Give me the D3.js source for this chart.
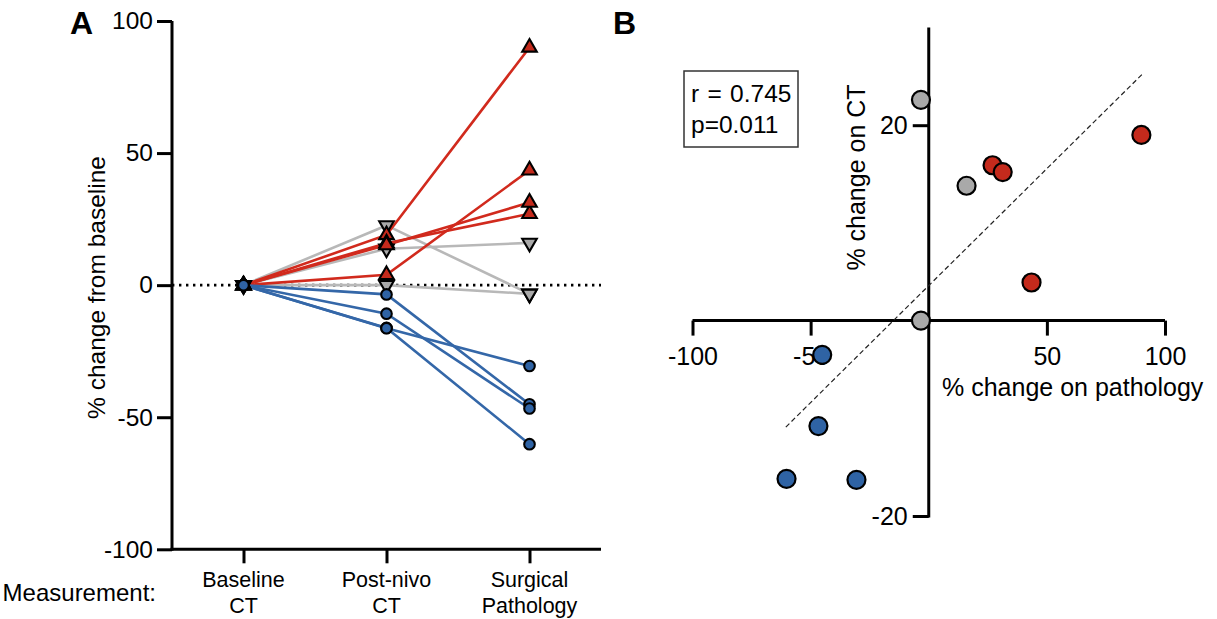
<!DOCTYPE html>
<html><head><meta charset="utf-8">
<script src="https://cdn.jsdelivr.net/npm/d3@7"></script>
<style>
body{margin:0;background:#fff}
svg text{font-family:"Liberation Sans",Arial,Helvetica,sans-serif;fill:#000}
</style>
</head><body>
<svg id="c" width="1217" height="619"></svg>
<script>
// ---------- DATA ----------
const categories = ["Baseline CT", "Post-nivo CT", "Surgical Pathology"];
const categoryLine1 = ["Baseline", "Post-nivo", "Surgical"];
const categoryLine2 = ["CT", "CT", "Pathology"];
const groups = ["red","red","red","red","gray","gray","gray","blue","blue","blue","blue"];
const baselineChange = [0, 0, 0, 0, 0, 0, 0, 0, 0, 0, 0];
const ctChange   = [19.0, 15.9, 15.2, 3.9, 22.6, 13.8, 0.0, -3.5, -10.8, -16.2, -16.3];
const pathChange = [90.0, 27.0, 31.3, 43.5, -3.3, 16.0, -3.3, -45.1, -46.7, -60.2, -30.6];
const yTicksA = [-100, -50, 0, 50, 100];
const xTicksB = [-100, -50, 50, 100];
const yTicksB = [-20, 20];
const fitPath = [-60.5, 90.3];
const fitCT = [-10.9, 25.2];
const statsLines = ["r = 0.745", "p=0.011"];

// ---------- STYLE ----------
const fillCol = {red:"#c42a1c", gray:"#a9a9a9", blue:"#2f63a4"};
const lineCol = {red:"#d12a1d", gray:"#b8b8b8", blue:"#3467a8"};
const drawOrder = ["gray","red","blue"];
const FONT = '"Liberation Sans", Arial, Helvetica, sans-serif';
const fmt = d => String(d);

const svg = d3.select("#c");
svg.append("rect").attr("width",1217).attr("height",619).attr("fill","#fff");

function styleAxis(g, fs){
  g.attr("font-family", FONT).attr("font-size", fs);
  g.selectAll(".domain").attr("stroke","#000").attr("stroke-width",3);
  g.selectAll(".tick line").attr("stroke","#000").attr("stroke-width",3);
  g.selectAll(".tick text").attr("fill","#000");
}

// ================= PANEL A =================
const xA = d3.scalePoint(categories, [172, 601]).padding(0.5);
const yA = d3.scaleLinear([-100, 100], [549.3, 21]);

const gA = svg.append("g");

// zero dotted line
gA.append("line")
  .attr("x1", xA.range()[0]).attr("x2", xA.range()[1])
  .attr("y1", yA(0)).attr("y2", yA(0))
  .attr("stroke","#000").attr("stroke-width",2.6)
  .attr("stroke-dasharray","2.4,4.6");

const patients = groups.map((g,i)=>({
  group:g,
  vals:[baselineChange[i], ctChange[i], pathChange[i]]
}));

const lineGen = d3.line().x((d,i)=>xA(categories[i])).y(d=>yA(d));
drawOrder.forEach(grp=>{
  gA.selectAll(null).data(patients.filter(p=>p.group===grp)).join("path")
    .attr("d", p=>lineGen(p.vals))
    .attr("fill","none").attr("stroke", lineCol[grp]).attr("stroke-width",2.6);
});

const triUp = d3.symbol().type(d3.symbolTriangle).size(92);
drawOrder.forEach(grp=>{
  patients.filter(p=>p.group===grp).forEach(p=>{
    p.vals.forEach((v,j)=>{
      const cx = xA(categories[j]), cy = yA(v);
      if(grp==="blue"){
        gA.append("circle").attr("cx",cx).attr("cy",cy).attr("r",5.3)
          .attr("fill",fillCol.blue).attr("stroke","#000").attr("stroke-width",2.1);
      } else {
        gA.append("path").attr("d",triUp())
          .attr("transform",`translate(${cx},${cy})` + (grp==="gray" ? " rotate(180)" : ""))
          .attr("fill",fillCol[grp]).attr("stroke","#000").attr("stroke-width",2.1)
          .attr("stroke-linejoin","miter");
      }
    });
  });
});

// axes A
const axYA = gA.append("g").attr("transform","translate(172,0)")
  .call(d3.axisLeft(yA).tickValues(yTicksA).tickFormat(fmt).tickSize(15).tickPadding(4).tickSizeOuter(0));
styleAxis(axYA, 24.5);

const axXA = gA.append("g").attr("transform",`translate(0,${yA(-100)})`)
  .call(d3.axisBottom(xA).tickSize(14).tickSizeOuter(0).tickFormat(""));
styleAxis(axXA, 21.5);
axXA.selectAll(".domain").attr("d", `M${xA.range()[0]-1.5},0H${xA.range()[1]}`);
axYA.selectAll(".domain").attr("d", `M0,${yA.range()[0]+1.5}V${yA.range()[1]}`);

// category labels
categories.forEach((c,i)=>{
  const t = gA.append("text").attr("text-anchor","middle")
    .attr("font-size",21.5).attr("x",xA(c));
  t.append("tspan").attr("x",xA(c)).attr("y",587).text(categoryLine1[i]);
  t.append("tspan").attr("x",xA(c)).attr("y",613).text(categoryLine2[i]);
});
gA.append("text").attr("x",156).attr("y",601).attr("text-anchor","end")
  .attr("font-size",24).text("Measurement:");

gA.append("text").attr("transform","translate(105,287.5) rotate(-90)")
  .attr("text-anchor","middle").attr("font-size",24.5).text("% change from baseline");

svg.append("text").attr("x",70).attr("y",33.5).attr("font-size",32)
  .attr("font-weight","bold").text("A");

// ================= PANEL B =================
const xB = d3.scaleLinear([-100, 100], [692.5, 1165]);
const yB = d3.scaleLinear([-20, 30], [516, 27.5]);
const gB = svg.append("g");

const axXB = gB.append("g").attr("transform",`translate(0,${yB(0)})`)
  .call(d3.axisBottom(xB).tickValues(xTicksB).tickFormat(fmt).tickSize(15).tickPadding(12).tickSizeOuter(0));
styleAxis(axXB, 25);
const axYB = gB.append("g").attr("transform",`translate(${xB(0)},0)`)
  .call(d3.axisLeft(yB).tickValues(yTicksB).tickFormat(fmt).tickSize(16).tickPadding(5).tickSizeOuter(0));
styleAxis(axYB, 25);
axXB.selectAll(".domain").attr("d", `M${xB.range()[0]},0H${xB.range()[1]}`);
axYB.selectAll(".domain").attr("d", `M0,${yB.range()[0]+1.5}V${yB.range()[1]}`);

// fit line
gB.append("line")
  .attr("x1",xB(fitPath[0])).attr("y1",yB(fitCT[0]))
  .attr("x2",xB(fitPath[1])).attr("y2",yB(fitCT[1]))
  .attr("stroke","#222").attr("stroke-width",1.2).attr("stroke-dasharray","5,3");

// points
const ptsB = groups.map((g,i)=>({group:g, x:pathChange[i], y:ctChange[i]}));
const orderB = ["gray","blue","red"];
orderB.forEach(grp=>{
  gB.selectAll(null).data(ptsB.filter(p=>p.group===grp)).join("circle")
    .attr("cx",d=>xB(d.x)).attr("cy",d=>yB(d.y)).attr("r",9)
    .attr("fill",fillCol[grp]).attr("stroke","#000").attr("stroke-width",2.2);
});

gB.append("text").attr("x",942).attr("y",396).attr("font-size",25)
  .text("% change on pathology");
gB.append("text").attr("transform","translate(865,177.5) rotate(-90)")
  .attr("text-anchor","middle").attr("font-size",25).text("% change on CT");

// stats box
gB.append("rect").attr("x",684).attr("y",71).attr("width",114).attr("height",76)
  .attr("fill","none").attr("stroke","#333").attr("stroke-width",1.5);
statsLines.forEach((s,i)=>{
  gB.append("text").attr("x",691).attr("y",102+i*31).attr("font-size",24.5)
    .attr("word-spacing", i===0 ? 1.5 : 0).text(s);
});

svg.append("text").attr("x",613).attr("y",33.5).attr("font-size",32)
  .attr("font-weight","bold").text("B");
</script>
</body></html>
